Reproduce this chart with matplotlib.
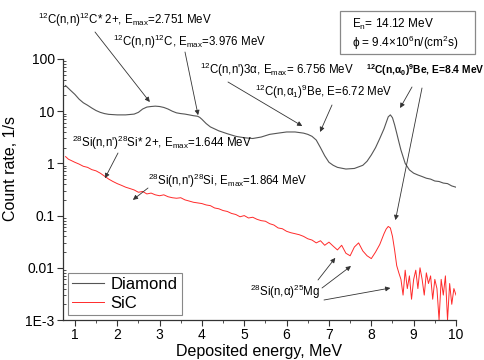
import matplotlib
matplotlib.use('Agg')
import matplotlib.pyplot as plt
from matplotlib.patches import Rectangle
from matplotlib.ticker import FixedLocator, LogLocator, NullFormatter

plt.rcParams['font.family'] = ['Liberation Sans', 'DejaVu Sans']
plt.rcParams['mathtext.fontset'] = 'custom'
plt.rcParams['mathtext.rm'] = 'Liberation Sans'
plt.rcParams['mathtext.it'] = 'Liberation Sans:italic'
plt.rcParams['mathtext.bf'] = 'Liberation Sans:bold'

W, H = 485, 360

# Diamond detector spectrum
diamond_e = [0.78, 0.9, 1.0, 1.1, 1.2, 1.3, 1.4, 1.5, 1.6, 1.7, 1.8, 2.0, 2.2, 2.4, 2.5,
             2.6, 2.7, 2.8, 2.9, 3.0, 3.1, 3.2, 3.3, 3.4, 3.5, 3.6, 3.7, 3.8, 3.9, 3.95,
             4.0, 4.1, 4.2, 4.4, 4.6, 4.8, 5.0, 5.2, 5.4, 5.6, 5.8, 6.0, 6.2, 6.4, 6.5,
             6.6, 6.7, 6.8, 6.9, 7.0, 7.1, 7.2, 7.4, 7.6, 7.8, 7.9, 8.0, 8.1, 8.2, 8.3,
             8.35, 8.4, 8.45, 8.5, 8.55, 8.6, 8.65, 8.7, 8.8, 8.9, 9.0, 9.1, 9.2, 9.3,
             9.4, 9.5, 9.6, 9.7, 9.8, 9.9, 10.0]
diamond_rate = [31, 25, 21, 17, 14.5, 13, 11.5, 10.3, 9.5, 9.0, 8.7, 8.5, 8.5, 8.8, 9.5,
                11, 12, 12.3, 12.5, 12.3, 11.8, 11, 10, 9.3, 9.0, 8.8, 8.5, 8.2, 8.0, 7.6,
                7.0, 5.8, 5.0, 4.2, 3.7, 3.3, 3.1, 3.0, 3.2, 3.6, 3.8, 4.0, 4.0, 3.8, 3.6,
                3.3, 2.8, 2.0, 1.4, 1.05, 0.92, 0.84, 0.78, 0.8, 0.92, 1.1, 1.45, 2.0, 3.0, 4.6,
                6.0, 7.8, 8.5, 7.5, 5.5, 3.8, 2.6, 1.8, 1.0, 0.75, 0.65, 0.6, 0.56, 0.52,
                0.5, 0.46, 0.45, 0.42, 0.41, 0.37, 0.35]

# SiC detector spectrum
sic_e = [0.78, 0.85, 0.9, 1.0, 1.1, 1.2, 1.3, 1.4, 1.5, 1.6, 1.7, 1.8, 1.9, 2.0, 2.1,
         2.2, 2.3, 2.4, 2.5, 2.6, 2.7, 2.8, 2.9, 3.0, 3.1, 3.2, 3.3, 3.4, 3.5, 3.6,
         3.7, 3.8, 3.9, 4.0, 4.1, 4.2, 4.3, 4.4, 4.5, 4.6, 4.7, 4.8, 4.9, 5.0, 5.1,
         5.2, 5.3, 5.4, 5.5, 5.6, 5.7, 5.8, 5.9, 6.0, 6.1, 6.2, 6.3, 6.4, 6.5, 6.6,
         6.7, 6.8, 6.9, 7.0, 7.1, 7.2, 7.3, 7.4, 7.5, 7.6, 7.7, 7.8, 7.9, 8.0, 8.1,
         8.2, 8.3, 8.35, 8.4, 8.45, 8.5, 8.55, 8.6, 8.65, 8.7, 8.75, 8.8, 8.85, 8.9, 8.95,
         9.0, 9.05, 9.1, 9.15, 9.2, 9.25, 9.3, 9.35, 9.4, 9.45, 9.5, 9.55, 9.6, 9.65, 9.7,
         9.75, 9.8, 9.85, 9.9, 9.95, 10.0]
sic_rate = [1.35, 1.2, 1.15, 1.05, 0.97, 0.88, 0.84, 0.76, 0.72, 0.65, 0.57, 0.5, 0.45, 0.41, 0.38,
            0.35, 0.33, 0.31, 0.28, 0.29, 0.26, 0.27, 0.25, 0.24, 0.25, 0.23, 0.22, 0.215, 0.22, 0.2,
            0.19, 0.18, 0.175, 0.17, 0.16, 0.155, 0.14, 0.135, 0.125, 0.12, 0.11, 0.105, 0.095, 0.1, 0.09,
            0.093, 0.085, 0.08, 0.078, 0.07, 0.066, 0.058, 0.056, 0.05, 0.047, 0.045, 0.043, 0.04, 0.036, 0.034,
            0.03, 0.033, 0.027, 0.031, 0.026, 0.022, 0.027, 0.019, 0.017, 0.025, 0.03, 0.021, 0.017, 0.015, 0.02,
            0.028, 0.045, 0.055, 0.062, 0.058, 0.04, 0.022, 0.011, 0.008, 0.006, 0.003, 0.009, 0.004, 0.007, 0.0025,
            0.006, 0.009, 0.004, 0.01, 0.006, 0.003, 0.008, 0.005, 0.007, 0.0025, 0.006, 0.004, 0.001, 0.006, 0.003,
            0.007, 0.001, 0.005, 0.002, 0.004, 0.003]

x_ticks = [1, 2, 3, 4, 5, 6, 7, 8, 9, 10]
y_ticks = [1e-3, 1e-2, 1e-1, 1, 10, 100]
y_tick_labels = ['1E-3', '0.01', '0.1', '1', '10', '100']


def fp(x, y):
    # reference pixel (top-left origin) -> figure fraction
    return (x / W, 1 - y / H)


fig = plt.figure(figsize=(W / 100, H / 100), dpi=100)
ax = fig.add_axes([63 / W, 40 / H, 393 / W, 261 / H])

ax.plot(diamond_e, diamond_rate, color='#555555', lw=0.8, label='Diamond')
ax.plot(sic_e, sic_rate, color='#ff2a2a', lw=0.7, label='SiC')

ax.set_yscale('log')
ax.set_xlim(0.72, 10.0)
ax.set_ylim(1e-3, 100)
ax.set_xticks(x_ticks)
ax.set_xticks([1.5, 2.5, 3.5, 4.5, 5.5, 6.5, 7.5, 8.5, 9.5], minor=True)
ax.yaxis.set_major_locator(FixedLocator(y_ticks))
ax.set_yticklabels(y_tick_labels)
ax.yaxis.set_minor_locator(LogLocator(base=10, subs=[2, 3, 4, 5, 6, 7, 8, 9], numticks=20))
ax.yaxis.set_minor_formatter(NullFormatter())

for s in ['top', 'right']:
    ax.spines[s].set_visible(False)
for s in ['left', 'bottom']:
    ax.spines[s].set_color('#333333')
    ax.spines[s].set_linewidth(0.9)
ax.tick_params(which='major', direction='out', length=4, width=0.8, color='#333333',
               labelsize=10, pad=2)
ax.tick_params(axis='y', which='minor', direction='in', length=2.5, width=0.6, color='#333333')
ax.tick_params(axis='x', which='minor', direction='out', length=2.5, width=0.6, color='#333333')

ax.set_xlabel('Deposited energy, MeV', fontsize=11.5, labelpad=1)
ax.set_ylabel('Count rate, 1/s', fontsize=11.5)
ax.yaxis.set_label_coords(-0.115, 0.58)

leg = ax.legend(loc='lower left', bbox_to_anchor=(0.013, 0.019), borderaxespad=0,
                fontsize=12, handlelength=1.9, labelspacing=0.25, borderpad=0.25,
                handletextpad=0.4, fancybox=False, framealpha=1)
leg.get_frame().set_edgecolor('#888888')
leg.get_frame().set_linewidth(0.8)

# parameter box
fig.patches.append(Rectangle(fp(340, 54), 135 / W, 43 / H, transform=fig.transFigure,
                             fill=False, edgecolor='#888888', lw=0.9))
fig.text(*fp(352, 24), 'E$_\\mathrm{n}$= 14.12 MeV', fontsize=8.5, va='center')
fig.text(*fp(352, 43), 'ϕ = 9.4×10$^6$n/(cm$^2$s)', fontsize=8.5, va='center')

labels = [
    ((38, 20), '$^{12}$C(n,n)$^{12}$C* 2+, E$_\\mathrm{max}$=2.751 MeV', 'normal', 8.3),
    ((113, 42), '$^{12}$C(n,n)$^{12}$C, E$_\\mathrm{max}$=3.976 MeV', 'normal', 8.3),
    ((200, 70), "$^{12}$C(n,n')3α, E$_\\mathrm{max}$= 6.756 MeV", 'normal', 8.3),
    ((255, 92), '$^{12}$C(n,α$_1$)$^9$Be, E=6.72 MeV', 'normal', 8.3),
    ((366, 70), '$^\\mathbf{12}$C(n,α$_\\mathbf{0}$)$^\\mathbf{9}$Be, E=8.4 MeV', 'bold', 7.4),
    ((72, 143), "$^{28}$Si(n,n')$^{28}$Si* 2+, E$_\\mathrm{max}$=1.644 MeV", 'normal', 8.3),
    ((148, 181), "$^{28}$Si(n,n')$^{28}$Si, E$_\\mathrm{max}$=1.864 MeV", 'normal', 8.3),
    ((250, 292), '$^{28}$Si(n,α)$^{25}$Mg', 'normal', 8.3),
]
for (px, py), txt, wt, fs in labels:
    fig.text(*fp(px, py), txt, fontsize=fs, fontweight=wt, va='center', ha='left')

# arrows: start (reference pixels) -> tip (data)
arrows = [
    ((95, 32), (2.77, 15)),
    ((185, 52), (3.91, 8.4)),
    ((228, 82), (6.37, 5.2)),
    ((332, 105), (6.79, 4.0)),
    ((412, 87), (8.68, 11.5)),
    ((422, 88), (8.57, 0.082)),
    ((118, 153), (1.71, 0.52)),
    ((148, 188), (2.37, 0.20)),
    ((318, 280), (7.15, 0.0155)),
    ((322, 288), (7.52, 0.0108)),
    ((324, 300), (8.45, 0.0041)),
]
for start, tip in arrows:
    ax.annotate('', xy=tip, xycoords='data', xytext=fp(*start), textcoords='figure fraction',
                arrowprops=dict(arrowstyle='-|>', color='#333333', lw=0.6,
                                mutation_scale=7, shrinkA=0, shrinkB=0),
                annotation_clip=False)

fig.savefig('out.png', dpi=100)
